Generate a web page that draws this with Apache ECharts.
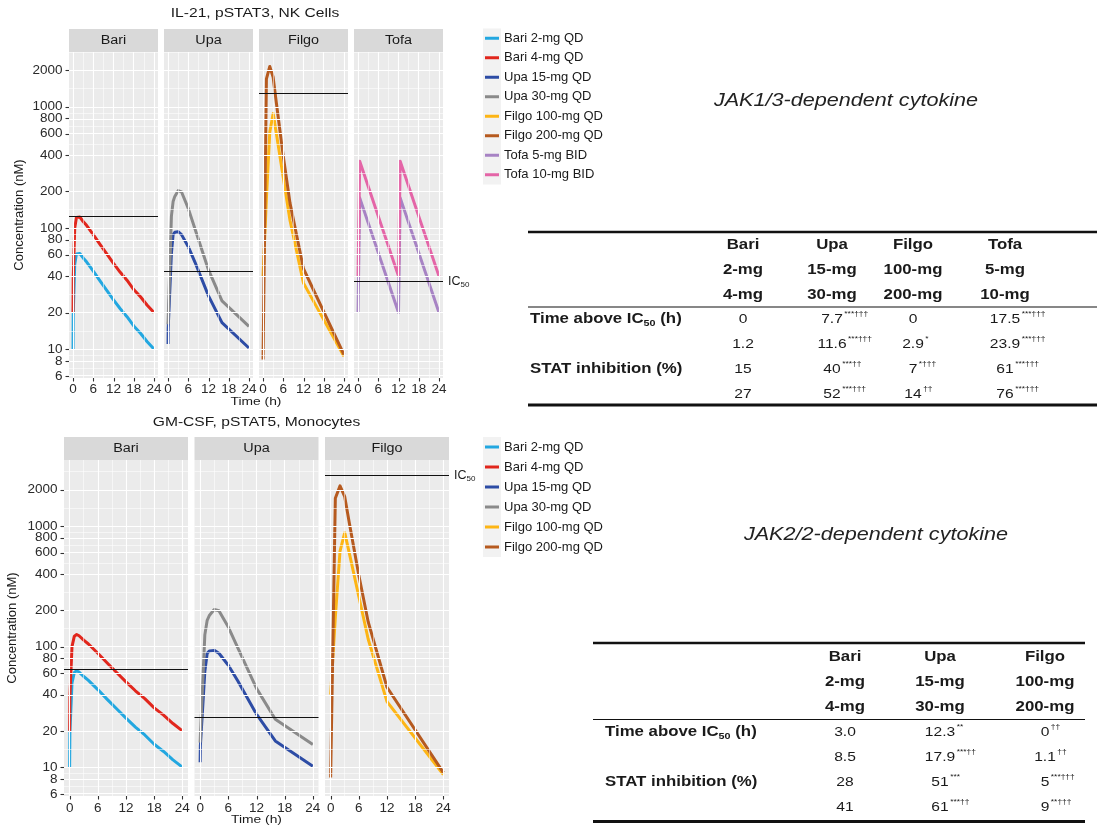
<!DOCTYPE html>
<html>
<head>
<meta charset="utf-8">
<title>JAK inhibitor concentrations vs IC50</title>
<style>html,body{margin:0;padding:0;background:#fff}#main{width:1099px;height:827px}</style>
</head>
<body>
<div id="main"></div>
<script src="https://cdn.jsdelivr.net/npm/echarts@6.0.0/dist/echarts.min.js"></script>
<script>
// ---- concentration–time profiles (nM) ----
var bariTime = [0, 0.05, 0.5, 1, 1.5, 2, 3, 4, 6, 8, 10, 12, 14, 16, 18, 20, 22, 24];
var bari2 = [10, 19, 50, 61, 63, 61.5, 56.5, 52.5, 44, 36.5, 30.5, 25.5, 21.5, 18.5, 15.5, 13.5, 11.5, 10];
var bari4 = [20, 38, 100, 122, 126, 123, 113, 105, 88, 73, 61, 51, 43, 37, 31, 27, 23, 20];

var upaTime = [0, 0.05, 1, 1.5, 2, 3, 4, 6, 8, 12, 16, 24];
var upa15 = [11, 15, 62, 88, 92, 93, 88, 70, 52, 27.5, 16.5, 10.2];
var upa30 = [16, 18, 125, 165, 182, 203, 198, 145, 98, 45, 25, 15.4];

var filgoTime = [0, 1, 2, 3, 4, 6, 8, 12, 24];
var filgo100 = [40, 175, 620, 880, 590, 260, 115, 35, 8.7];
var filgo200 = [8.2, 1700, 2150, 1750, 1050, 390, 160, 46, 9];

var tofaTime = [0, 0.5, 12, 12.5, 24];
var tofa5 = [20, 177, 20, 177, 20];
var tofa10 = [40, 355, 40, 355, 40];

// IC50 per panel
var il21IC50 = [126, 44, 1300, 36];
var gmcsfIC50 = [65, 26, 2620];

// axis breaks
var yBreaks = [6, 8, 10, 20, 40, 60, 80, 100, 200, 400, 600, 800, 1000, 2000];
var xBreaks = [0, 6, 12, 18, 24];
var xMinor = [3, 9, 15, 21];

// tables
var topDrugs = ['Bari', 'Upa', 'Filgo', 'Tofa'];
var topLow = ['2-mg', '15-mg', '100-mg', '5-mg'];
var topHigh = ['4-mg', '30-mg', '200-mg', '10-mg'];
var topTimeLow = [['0', ''], ['7.7', '***†††'], ['0', ''], ['17.5', '***†††']];
var topTimeHigh = [['1.2', ''], ['11.6', '***†††'], ['2.9', '*'], ['23.9', '***†††']];
var topStatLow = [['15', ''], ['40', '***††'], ['7', '*†††'], ['61', '***†††']];
var topStatHigh = [['27', ''], ['52', '***†††'], ['14', '††'], ['76', '***†††']];

var botDrugs = ['Bari', 'Upa', 'Filgo'];
var botLow = ['2-mg', '15-mg', '100-mg'];
var botHigh = ['4-mg', '30-mg', '200-mg'];
var botTimeLow = [['3.0', ''], ['12.3', '**'], ['0', '††']];
var botTimeHigh = [['8.5', ''], ['17.9', '***††'], ['1.1', '††']];
var botStatLow = [['28', ''], ['51', '***'], ['5', '***†††']];
var botStatHigh = [['41', ''], ['61', '***††'], ['9', '**†††']];

var colors = {
    'Bari 2-mg QD': '#22A7E0', 'Bari 4-mg QD': '#E1261C',
    'Upa 15-mg QD': '#2D4CA5', 'Upa 30-mg QD': '#8A8A8A',
    'Filgo 100-mg QD': '#FDB515', 'Filgo 200-mg QD': '#B65A1F',
    'Tofa 5-mg BID': '#A783C4', 'Tofa 10-mg BID': '#E465A7'
};

var FONT = '"Liberation Sans", Arial, Helvetica, sans-serif';
var SX = 1.2; // the figure is a little wider than tall in its lettering

var chart = echarts.init(document.getElementById('main'));

function lg(v) { return Math.log10(v); }
function toXY(t, c) { return t.map(function (v, i) { return [v, lg(c[i])]; }); }

var mctx = document.createElement('canvas').getContext('2d');
function textWidth(s, size, weight) {
    mctx.font = (weight || 'normal') + ' ' + size + 'px ' + FONT;
    return mctx.measureText(s).width;
}

function txt(x, y, s, size, o) {
    o = o || {};
    return {
        type: 'text', x: x, y: y, scaleX: o.noScale ? 1 : SX, silent: true, z: 10,
        style: {
            text: s, fontSize: size, fontFamily: FONT,
            fontWeight: o.weight || 'normal', fontStyle: o.style || 'normal',
            fill: o.color || '#1a1a1a', align: o.align || 'center', verticalAlign: 'middle',
            rich: o.rich
        }
    };
}
function hline(x0, x1, y, w) {
    return { type: 'line', silent: true, z: 10, shape: { x1: x0, y1: y, x2: x1, y2: y }, style: { stroke: '#111', lineWidth: w } };
}
function tick(x1, y1, x2, y2) {
    return { type: 'line', silent: true, z: 10, shape: { x1: x1, y1: y1, x2: x2, y2: y2 }, style: { stroke: '#333', lineWidth: 1.1 } };
}

var option = {
    animation: false,
    textStyle: { fontFamily: FONT },
    grid: [], xAxis: [], yAxis: [], series: [],
    legend: [],
    graphic: { elements: [] }
};
var G = option.graphic.elements;
var tickJobs = []; // axis ticks, placed later through the axes' own pixel mapping

function facetRow(panels, ic50, lay) {
    var logBreaks = yBreaks.map(lg);
    var yMajor = logBreaks.filter(function (v) { return v >= lay.yMin && v <= lay.yMax; });
    var yMinorVals = [];
    for (var i = 0; i < logBreaks.length; i++) {
        var a = logBreaks[i];
        var b = i < logBreaks.length - 1 ? logBreaks[i + 1] : a + (a - logBreaks[i - 1]);
        yMinorVals.push((a + b) / 2);
    }
    yMinorVals = yMinorVals.filter(function (v) { return v >= lay.yMin && v <= lay.yMax; });

    panels.forEach(function (p, k) {
        var gi = option.grid.length;
        var left = lay.left + k * lay.step;
        var first = k === 0;
        option.grid.push({
            left: left, top: lay.top, width: lay.width, height: lay.height,
            show: true, backgroundColor: '#EBEBEB', borderWidth: 0,
            containLabel: false, outerBoundsMode: 'none'
        });
        option.xAxis.push({
            type: 'value', gridIndex: gi, min: -1.2, max: 25.2, position: 'bottom',
            axisLine: { show: false }, splitLine: { show: false }, axisTick: { show: false },
            axisLabel: { customValues: xBreaks, fontSize: 13.5, color: '#2a2a2a', margin: lay.xMargin, fontFamily: FONT }
        });
        option.yAxis.push({
            type: 'value', gridIndex: gi, min: lay.yMin, max: lay.yMax, position: 'left',
            axisLine: { show: false }, splitLine: { show: false }, axisTick: { show: false },
            axisLabel: {
                show: first, customValues: yMajor, fontSize: 13.5, color: '#2a2a2a', margin: 6.5, fontFamily: FONT,
                formatter: function (v) { return String(Math.round(Math.pow(10, v))); }
            },
            name: first ? 'Concentration (nM)' : '', nameLocation: 'middle', nameGap: lay.nameGap,
            nameMoveOverlap: false,
            nameTextStyle: { fontSize: 13, color: '#1a1a1a', fontFamily: FONT }
        });
        tickJobs.push({ gi: gi, left: left, bottom: lay.top + lay.height, y: first ? yMajor : [], x: xBreaks });

        // background grid (white major/minor lines)
        var gl = [];
        yMajor.forEach(function (v) { gl.push({ yAxis: v, lineStyle: { color: '#fff', width: 1.1, type: 'solid' } }); });
        yMinorVals.forEach(function (v) { gl.push({ yAxis: v, lineStyle: { color: '#fff', width: 0.55, type: 'solid' } }); });
        xBreaks.forEach(function (v) { gl.push({ xAxis: v, lineStyle: { color: '#fff', width: 1.1, type: 'solid' } }); });
        xMinor.forEach(function (v) { gl.push({ xAxis: v, lineStyle: { color: '#fff', width: 0.55, type: 'solid' } }); });
        option.series.push({
            type: 'line', xAxisIndex: gi, yAxisIndex: gi, data: [], silent: true, z: 1,
            markLine: { silent: true, symbol: ['none', 'none'], animation: false, label: { show: false }, emphasis: { disabled: true }, data: gl }
        });

        p.series.forEach(function (s) {
            option.series.push({
                name: s[0], type: 'line', xAxisIndex: gi, yAxisIndex: gi,
                data: toXY(s[1], s[2]), color: colors[s[0]],
                showSymbol: false, symbol: 'none', silent: true, z: 3,
                lineStyle: { width: 3, join: 'round', cap: 'butt', color: colors[s[0]] }
            });
        });

        var last = k === panels.length - 1;
        option.series.push({
            type: 'line', xAxisIndex: gi, yAxisIndex: gi, data: [], silent: true, z: 5,
            markLine: {
                silent: true, symbol: ['none', 'none'], animation: false, emphasis: { disabled: true },
                lineStyle: { color: '#111', width: 1.2, type: 'solid' },
                label: {
                    show: last, position: 'end', distance: 5, formatter: '{a|IC}{b|50}',
                    rich: {
                        a: { fontSize: 12.5, color: '#1a1a1a', lineHeight: 15, fontFamily: FONT },
                        b: { fontSize: 8, color: '#1a1a1a', verticalAlign: 'bottom', fontFamily: FONT }
                    }
                },
                data: [{ yAxis: lg(ic50[k]) }]
            }
        });

        // facet strip
        G.push({ type: 'rect', silent: true, z: 1, shape: { x: left, y: lay.top - 23, width: lay.width, height: 23 }, style: { fill: '#D9D9D9' } });
        G.push(txt(left + lay.width / 2, lay.top - 11, p.label, 12));
    });
}

facetRow([
    { label: 'Bari', series: [['Bari 2-mg QD', bariTime, bari2], ['Bari 4-mg QD', bariTime, bari4]] },
    { label: 'Upa', series: [['Upa 15-mg QD', upaTime, upa15], ['Upa 30-mg QD', upaTime, upa30]] },
    { label: 'Filgo', series: [['Filgo 100-mg QD', filgoTime, filgo100], ['Filgo 200-mg QD', filgoTime, filgo200]] },
    { label: 'Tofa', series: [['Tofa 5-mg BID', tofaTime, tofa5], ['Tofa 10-mg BID', tofaTime, tofa10]] }
], il21IC50, { left: 69, step: 95, width: 89, top: 52, height: 326, yMin: 0.761, yMax: 3.452, xMargin: 4.5, nameGap: 43 });

facetRow([
    { label: 'Bari', series: [['Bari 2-mg QD', bariTime, bari2], ['Bari 4-mg QD', bariTime, bari4]] },
    { label: 'Upa', series: [['Upa 15-mg QD', upaTime, upa15], ['Upa 30-mg QD', upaTime, upa30]] },
    { label: 'Filgo', series: [['Filgo 100-mg QD', filgoTime, filgo100], ['Filgo 200-mg QD', filgoTime, filgo200]] }
], gmcsfIC50, { left: 64, step: 130.5, width: 124, top: 460, height: 336, yMin: 0.761, yMax: 3.547, xMargin: 5.5, nameGap: 45 });

// legends
var topNames = Object.keys(colors);
var botNames = topNames.slice(0, 6);
function legendAt(names, top, lh) {
    return {
        data: names, orient: 'vertical', left: 485, top: top, padding: 0,
        itemWidth: 14, itemHeight: 3, itemGap: 0, icon: 'rect', selectedMode: false,
        textStyle: { fontSize: 13, color: '#1a1a1a', lineHeight: lh, fontFamily: FONT }
    };
}
option.legend.push(legendAt(topNames, 28.5, 19.5));
option.legend.push(legendAt(botNames, 437, 20));
G.push({ type: 'rect', silent: true, z: 0, shape: { x: 483, y: 28.5, width: 18, height: 156 }, style: { fill: '#F2F2F2' } });
G.push({ type: 'rect', silent: true, z: 0, shape: { x: 483, y: 437, width: 18, height: 120 }, style: { fill: '#F2F2F2' } });

// panel titles and x-axis titles
G.push(txt(255, 13.5, 'IL-21, pSTAT3, NK Cells', 13));
G.push(txt(256.5, 422, 'GM-CSF, pSTAT5, Monocytes', 13));
G.push(txt(256, 402, 'Time (h)', 11.5));
G.push(txt(256.5, 820, 'Time (h)', 11.5));

// italic headings
G.push(txt(846, 101, 'JAK1/3-dependent cytokine', 18, { style: 'italic', color: '#222' }));
G.push(txt(876, 535, 'JAK2/2-dependent cytokine', 18, { style: 'italic', color: '#222' }));

// tables
var richLabel = {
    b: { fontSize: 14, fontWeight: 'bold', lineHeight: 18, fill: '#1a1a1a', fontFamily: FONT },
    s: { fontSize: 9, fontWeight: 'bold', verticalAlign: 'bottom', fill: '#1a1a1a', fontFamily: FONT }
};
function buildTable(t) {
    G.push(hline(t.x0, t.x1, t.lineY[0], 2.5));
    G.push(hline(t.x0, t.x1, t.lineY[1], 1.2));
    G.push(hline(t.x0, t.x1, t.lineY[2], 3));
    [t.drugs, t.low, t.high].forEach(function (row, r) {
        row.forEach(function (s, c) { G.push(txt(t.colX[c], t.headY[r], s, 14, { weight: 'bold' })); });
    });
    G.push(txt(t.labelX, t.rowY[0], '{b|Time above IC}{s|50}{b| (h)}', 14, { align: 'left', weight: 'bold', rich: richLabel }));
    G.push(txt(t.labelX, t.rowY[2], 'STAT inhibition (%)', 14, { align: 'left', weight: 'bold' }));
    t.rows.forEach(function (row, r) {
        row.forEach(function (cell, c) {
            var x = t.colX[c], y = t.rowY[r];
            G.push(txt(x, y, cell[0], 13));
            if (cell[1]) {
                G.push(txt(x + textWidth(cell[0], 13) * SX / 2 + 1.5, y - 5, cell[1], 7, { align: 'left' }));
            }
        });
    });
}
buildTable({
    x0: 528, x1: 1097, lineY: [232, 307, 405],
    headY: [245, 270, 295], rowY: [319, 344, 369, 394],
    labelX: 530, colX: [743, 832, 913, 1005],
    drugs: topDrugs, low: topLow, high: topHigh,
    rows: [topTimeLow, topTimeHigh, topStatLow, topStatHigh]
});
buildTable({
    x0: 593, x1: 1085, lineY: [643, 719.5, 821.5],
    headY: [657, 682, 707], rowY: [732, 757, 782, 807],
    labelX: 605, colX: [845, 940, 1045],
    drugs: botDrugs, low: botLow, high: botHigh,
    rows: [botTimeLow, botTimeHigh, botStatLow, botStatHigh]
});

chart.setOption(option);

// outward tick marks, positioned through each axis' pixel mapping
var ticks = [];
tickJobs.forEach(function (j) {
    j.y.forEach(function (v) {
        var py = Math.round(chart.convertToPixel({ yAxisIndex: j.gi }, v)) + 0.5;
        ticks.push(tick(j.left - 3.5, py, j.left, py));
    });
    j.x.forEach(function (v) {
        var px = Math.round(chart.convertToPixel({ xAxisIndex: j.gi }, v)) + 0.5;
        ticks.push(tick(px, j.bottom, px, j.bottom + 3.5));
    });
});
chart.setOption({ graphic: { elements: G.concat(ticks) } });
</script>
</body>
</html>
